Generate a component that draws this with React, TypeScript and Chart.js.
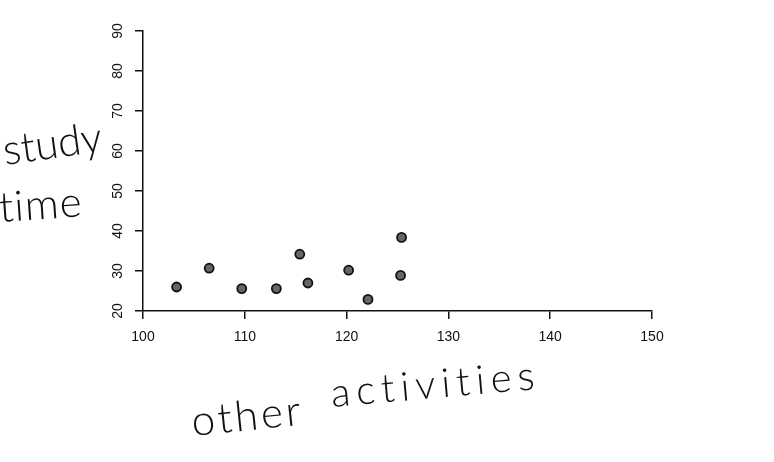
import React, { useEffect, useRef } from "react";
import { Chart, registerables } from "chart.js";

Chart.register(...registerables);

// Data
const otherActivities = [103.3, 106.5, 109.7, 113.1, 115.4, 116.2, 120.2, 122.1, 125.4, 125.3];
const studyTime = [26.0, 30.7, 25.6, 25.6, 34.2, 27.0, 30.2, 22.9, 38.4, 28.9];
const xTicks = [100, 110, 120, 130, 140, 150];
const yTicks = [20, 30, 40, 50, 60, 70, 80, 90];
const yLabelLines = ["study", "time"];
const xLabelWords = ["other", "activities"];

const handText = {
  id: "handText",
  afterDraw(chart: any) {
    const ctx = chart.ctx;
    ctx.save();
    ctx.fillStyle = "#111";
    ctx.textBaseline = "alphabetic";
    const draw = (t: string, x: number, y: number, rot: number, size: number, spacing: number) => {
      ctx.save();
      ctx.translate(x, y);
      ctx.rotate((rot * Math.PI) / 180);
      ctx.font = `300 ${size}px Lato`;
      (ctx as any).letterSpacing = `${spacing}px`;
      ctx.fillText(t, 0, 0);
      ctx.restore();
    };
    draw(yLabelLines[0], 5, 165, -8, 42, 0);
    draw(yLabelLines[1], 0, 222, -4, 42, 1);
    draw(xLabelWords[0], 193, 436, -6, 42, 3);
    draw(xLabelWords[1], 332, 407, -5, 40, 6);
    ctx.restore();
  },
};

export default function App() {
  const ref = useRef<HTMLCanvasElement | null>(null);
  useEffect(() => {
    if (!ref.current) return;
    const chart = new Chart(ref.current, {
      type: "scatter",
      data: {
        datasets: [
          {
            data: otherActivities.map((x, i) => ({ x, y: studyTime[i] })),
            pointRadius: 4.5,
            pointBorderWidth: 1.8,
            pointBorderColor: "#111",
            pointBackgroundColor: "#666",
          },
        ],
      },
      options: {
        animation: false,
        responsive: false,
        devicePixelRatio: 1,
        layout: { padding: { left: 0, top: 31, right: 122, bottom: 0 } },
        plugins: { legend: { display: false }, tooltip: { enabled: false } },
        scales: {
          x: {
            type: "linear",
            min: xTicks[0],
            max: xTicks[xTicks.length - 1],
            afterFit: (s: any) => {
              s.height = 151;
            },
            afterBuildTicks: (s: any) => {
              s.ticks = xTicks.map((v) => ({ value: v }));
            },
            border: { display: true, color: "#111", width: 1.5 },
            grid: { display: true, drawOnChartArea: false, drawTicks: true, tickLength: 8, tickColor: "#111", lineWidth: 1.5 },
            ticks: { color: "#111", padding: 10, font: { family: "'Liberation Sans', Arial", size: 14 } },
          },
          y: {
            type: "linear",
            min: yTicks[0],
            max: yTicks[yTicks.length - 1],
            afterFit: (s: any) => {
              s.width = 143;
            },
            afterBuildTicks: (s: any) => {
              s.ticks = yTicks.map((v) => ({ value: v }));
            },
            border: { display: true, color: "#111", width: 1.5 },
            grid: { display: true, drawOnChartArea: false, drawTicks: true, tickLength: 8, tickColor: "#111", lineWidth: 1.5 },
            ticks: {
              color: "#111",
              padding: 9,
              minRotation: 90,
              maxRotation: 90,
              crossAlign: "center",
              font: { family: "'Liberation Sans', Arial", size: 14 },
            },
          },
        },
      },
      plugins: [handText],
    } as any);
    return () => chart.destroy();
  }, []);
  return (
    <div style={{ position: "absolute", left: 0, top: 0, width: 774, height: 462, background: "#fff" }}>
      <canvas ref={ref} width={774} height={462} />
    </div>
  );
}
